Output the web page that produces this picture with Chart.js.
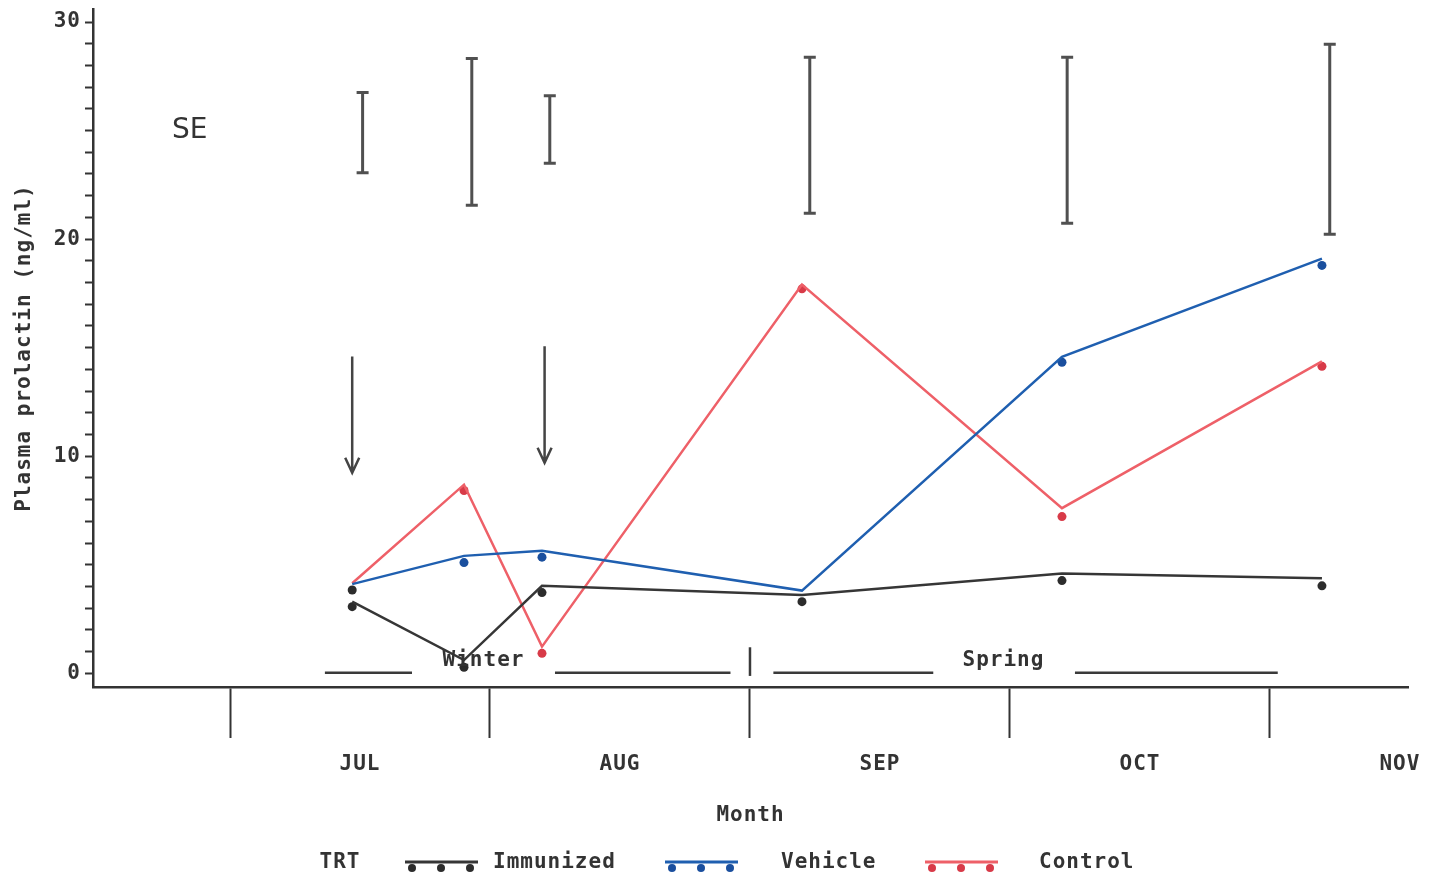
<!DOCTYPE html>
<html>
<head>
<meta charset="utf-8">
<script src="https://cdn.jsdelivr.net/npm/chart.js@4/dist/chart.umd.min.js"></script>
<style>
  html, body { margin: 0; padding: 0; background: #fff; }
  canvas { display: block; }
</style>
</head>
<body>
<canvas id="chart" width="1429" height="880"></canvas>
<script>
// months, x = months after 1 July
const monthLabels = ['JUL', 'AUG', 'SEP', 'OCT', 'NOV'];
const sampleX = [0.47, 0.9, 1.2, 2.2, 3.2, 4.2];

// plotted lines (ng/ml)
const immunizedLine = [3.30, 0.61, 4.03, 3.61, 4.60, 4.38];
const vehicleLine = [4.11, 5.41, 5.65, 3.81, 14.58, 19.10];
const controlLine = [4.15, 8.69, 1.23, 17.91, 7.61, 14.37];

// plotted dots (slightly off the lines in the original)
const immunizedDotX = [0.47, 0.47, 0.9, 1.2, 2.2, 3.2, 4.2];
const immunizedDotY = [3.84, 3.07, 0.28, 3.72, 3.30, 4.27, 4.03];
const vehicleDotY = [null, 5.10, 5.35, null, 14.33, 18.79];
const controlDotY = [null, 8.42, 0.92, 17.71, 7.22, 14.14];

// SE bars
const seX = [0.51, 0.93, 1.23, 2.23, 3.22, 4.23];
const seLow = [23.06, 21.56, 23.49, 21.19, 20.73, 20.22];
const seHigh = [26.75, 28.32, 26.60, 28.38, 28.38, 28.98];

// treatment arrows
const arrowX = [0.47, 1.21];
const arrowTop = [14.59, 15.06];
const arrowTip = [9.24, 9.70];

// seasons
const seasonNames = ['Winter', 'Spring'];
const seasonTextX = [0.975, 2.975];
const seasonSegments = [[0.365, 0.70], [1.25, 1.925], [2.09, 2.705], [3.25, 4.03]];

const seriesNames = ['Immunized', 'Vehicle', 'Control'];
const lineColors = ['#363636', '#1f5fb0', '#ee6068'];
const dotColors = ['#2c2c2c', '#1a4f9e', '#d83a48'];

const MONO = "'DejaVu Sans Mono', monospace";
const INK = '#333';

const toPts = (xs, ys) => xs.map((x, i) => ({ x: x, y: ys[i] })).filter(p => p.y !== null);

const lineSet = (label, ys, i) => ({
    label: label,
    data: toPts(sampleX, ys),
    showLine: true,
    borderColor: lineColors[i],
    borderWidth: 2.5,
    pointRadius: 0,
    tension: 0
});
const dotSet = (label, xs, ys, i) => ({
    label: label + ' dots',
    data: toPts(xs, ys),
    showLine: false,
    backgroundColor: dotColors[i],
    borderWidth: 0,
    pointRadius: 4.5
});

const extras = {
    id: 'extras',
    beforeUpdate(chart) {
        chart.ctx.letterSpacing = '1px';
    },
    afterDatasetsDraw(chart) {
        const ctx = chart.ctx;
        const xs = chart.scales.x, ys = chart.scales.y;
        const px = v => xs.getPixelForValue(v);
        const py = v => ys.getPixelForValue(v);
        ctx.save();
        ctx.lineCap = 'butt';

        // SE bars
        ctx.strokeStyle = '#505050';
        ctx.lineWidth = 3;
        seX.forEach((x, i) => {
            const cx = px(x), y1 = py(seLow[i]), y2 = py(seHigh[i]);
            ctx.beginPath();
            ctx.moveTo(cx, y1); ctx.lineTo(cx, y2);
            ctx.moveTo(cx - 6, y1); ctx.lineTo(cx + 6, y1);
            ctx.moveTo(cx - 6, y2); ctx.lineTo(cx + 6, y2);
            ctx.stroke();
        });
        ctx.letterSpacing = '0px';
        ctx.fillStyle = INK;
        ctx.font = "28px 'DejaVu Sans', sans-serif";
        ctx.textAlign = 'center';
        ctx.textBaseline = 'middle';
        ctx.fillText('SE', px(-0.155), py(25.0));

        // arrows
        ctx.strokeStyle = '#444';
        ctx.lineWidth = 2.5;
        arrowX.forEach((x, i) => {
            const cx = px(x), t = py(arrowTop[i]), b = py(arrowTip[i]);
            ctx.beginPath();
            ctx.moveTo(cx, t); ctx.lineTo(cx, b);
            ctx.moveTo(cx - 7, b - 15); ctx.lineTo(cx, b); ctx.lineTo(cx + 7, b - 15);
            ctx.stroke();
        });

        // season bars
        ctx.strokeStyle = '#3a3a3a';
        ctx.lineWidth = 2.5;
        seasonSegments.forEach(s => {
            ctx.beginPath();
            ctx.moveTo(px(s[0]), py(0.03)); ctx.lineTo(px(s[1]), py(0.03));
            ctx.stroke();
        });
        ctx.beginPath();
        ctx.moveTo(px(2), py(1.2)); ctx.lineTo(px(2), py(-0.12));
        ctx.stroke();
        ctx.letterSpacing = '1px';
        ctx.font = 'bold 21px ' + MONO;
        seasonNames.forEach((n, i) => ctx.fillText(n, px(seasonTextX[i]), py(0.6)));

        // legend
        const ly = 862;
        ctx.fillText('TRT', 340, ly + 1);
        const sampleStart = [405, 665, 925];
        const textStart = [493, 781, 1039];
        ctx.textAlign = 'left';
        seriesNames.forEach((n, i) => {
            const x0 = sampleStart[i];
            ctx.strokeStyle = lineColors[i];
            ctx.lineWidth = 3;
            ctx.beginPath();
            ctx.moveTo(x0, ly); ctx.lineTo(x0 + 73, ly);
            ctx.stroke();
            ctx.fillStyle = dotColors[i];
            [7, 36, 65].forEach(d => {
                ctx.beginPath();
                ctx.arc(x0 + d, ly + 6, 4, 0, Math.PI * 2);
                ctx.fill();
            });
            ctx.fillStyle = INK;
            ctx.fillText(n, textStart[i], ly + 1);
        });
        ctx.restore();
    }
};

new Chart(document.getElementById('chart'), {
    type: 'scatter',
    data: {
        datasets: [
            lineSet('Immunized', immunizedLine, 0),
            lineSet('Vehicle', vehicleLine, 1),
            lineSet('Control', controlLine, 2),
            dotSet('Vehicle', sampleX, vehicleDotY, 1),
            dotSet('Control', sampleX, controlDotY, 2),
            dotSet('Immunized', immunizedDotX, immunizedDotY, 0)
        ]
    },
    options: {
        responsive: false,
        animation: false,
        devicePixelRatio: 1,
        layout: { padding: { top: 9, right: 21, bottom: 50, left: 0 } },
        plugins: { legend: { display: false }, tooltip: { enabled: false } },
        scales: {
            x: {
                type: 'linear',
                min: -0.527,
                max: 4.531,
                afterFit: s => { s.height = 143; s.paddingLeft = 0; s.paddingRight = 0; },
                border: { color: INK, width: 2.5 },
                grid: {
                    drawOnChartArea: false,
                    tickLength: 51,
                    tickWidth: 2,
                    tickColor: c => (Number.isInteger(c.tick.value) && c.tick.value >= 0) ? INK : 'rgba(0,0,0,0)'
                },
                ticks: {
                    stepSize: 0.5,
                    includeBounds: false,
                    autoSkip: false,
                    maxRotation: 0,
                    padding: 14,
                    color: INK,
                    font: { family: MONO, size: 21, weight: 'bold' },
                    callback: v => (Math.abs(v % 1 - 0.5) < 1e-6) ? monthLabels[Math.round(v - 0.5)] : ''
                },
                title: {
                    display: true,
                    text: 'Month',
                    color: INK,
                    font: { family: MONO, size: 21, weight: 'bold' },
                    padding: { top: 0, bottom: 2 }
                }
            },
            y: {
                min: -0.63,
                max: 30.6,
                afterFit: s => { s.width = 93; s.paddingTop = 0; s.paddingBottom = 0; },
                border: { color: INK, width: 2.5 },
                grid: {
                    drawOnChartArea: false,
                    tickLength: 8,
                    tickWidth: 2,
                    tickColor: INK
                },
                ticks: {
                    stepSize: 1,
                    includeBounds: false,
                    autoSkip: false,
                    padding: 4,
                    color: INK,
                    font: { family: MONO, size: 21, weight: 'bold' },
                    callback: v => (v % 10 === 0) ? v : ''
                },
                title: {
                    display: true,
                    text: 'Plasma prolactin (ng/ml)',
                    color: INK,
                    font: { family: MONO, size: 21, weight: 'bold' },
                    padding: { top: 12, bottom: 0 }
                }
            }
        }
    },
    plugins: [extras]
});
</script>
</body>
</html>
